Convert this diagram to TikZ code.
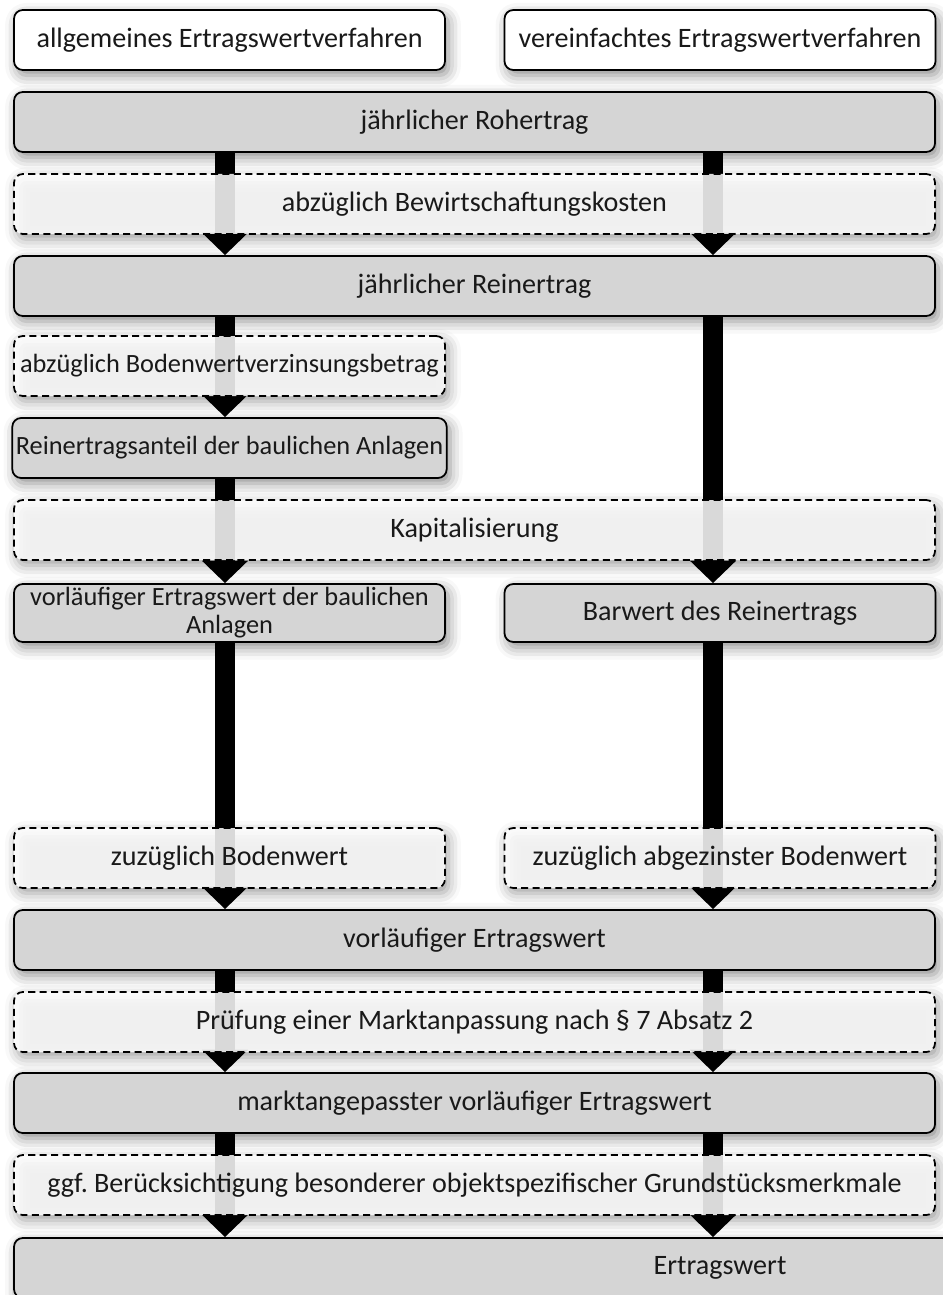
\documentclass[tikz,border=0pt]{standalone}
\usepackage{fontspec}
\setmainfont{Carlito}
\usetikzlibrary{arrows.meta,shadows.blur,backgrounds}
\frenchspacing
\begin{document}
\begin{tikzpicture}[
    box/.style={draw,rounded corners=5pt,line width=1pt,minimum height=1.2cm,inner sep=2pt,
      align=center,font=\fontsize{16}{16}\selectfont,text=black!90,
      blur shadow={shadow xshift=2pt,shadow yshift=-3pt,shadow blur radius=7pt,shadow opacity=45}},
    small/.style={font=\fontsize{15}{16}\selectfont},
    graybox/.style={box,fill=gray!33},
    topbox/.style={box,fill=white},
    dashbox/.style={box,dash pattern=on 4pt off 2.5pt,fill=white,fill opacity=.85,text opacity=1},
    half/.style={minimum width=8.62cm},
    full/.style={minimum width=18.42cm},
    flow/.style={line width=.4cm,-{Triangle[width=.9cm,length=.45cm]}}]
  \clip (0,0) rectangle (18.86,-25.9);
  \coordinate (L) at (4.5,0);
  \coordinate (R) at (14.26,0);
  % Kopfzeile
  \node[topbox,half] (allg) at (4.59,-0.8) {allgemeines Ertragswertverfahren};
  \node[topbox,half] (verein) at (14.4,-0.8) {vereinfachtes Ertragswertverfahren};
  % gemeinsamer Teil
  \node[graybox,full] (roh) at (9.49,-2.44) {jährlicher Rohertrag};
  \node[dashbox,full] (bewk) at (9.49,-4.08) {abzüglich Bewirtschaftungskosten};
  \node[graybox,full] (rein) at (9.49,-5.72) {jährlicher Reinertrag};
  \node[dashbox,half,small] (bwz) at (4.59,-7.32) {abzüglich Bodenwertverzinsungsbetrag};
  \node[graybox,half,small] (anteil) at (4.59,-8.96) {Reinertragsanteil der baulichen Anlagen};
  \node[dashbox,full] (kap) at (9.49,-10.6) {Kapitalisierung};
  \node[graybox,half,small,minimum height=1.16cm] (evb) at (4.59,-12.26)
    {vorläufiger Ertragswert der baulichen\\Anlagen};
  \node[graybox,half,minimum height=1.16cm] (barwert) at (14.4,-12.26) {Barwert des Reinertrags};
  \node[dashbox,half] (bodenL) at (4.59,-17.16) {zuzüglich Bodenwert};
  \node[dashbox,half] (bodenR) at (14.4,-17.16) {zuzüglich abgezinster Bodenwert};
  \node[graybox,full] (vorl) at (9.49,-18.8) {vorläufiger Ertragswert};
  \node[dashbox,full] (pruef) at (9.49,-20.44) {Prüfung einer Marktanpassung nach § 7 Absatz 2};
  \node[graybox,full] (markt) at (9.49,-22.06) {marktangepasster vorläufiger Ertragswert};
  \node[dashbox,full] (bog) at (9.49,-23.7)
    {ggf.\ Berücksichtigung besonderer objektspezifischer Grundstücksmerkmale};
  \node[graybox,minimum width=28.24cm] (ew) at (14.4,-25.36) {Ertragswert};
  % Pfeile hinter den Kaesten
  \begin{scope}[on background layer]
    \foreach \a/\b/\c in {roh/rein/L,roh/rein/R,rein/anteil/L,rein/barwert/R,anteil/evb/L,
        evb/vorl/L,barwert/vorl/R,vorl/markt/L,vorl/markt/R,markt/ew/L,markt/ew/R}
      \draw[flow] (\a.south -| \c) -- (\b.north -| \c);
  \end{scope}
\end{tikzpicture}
\end{document}
